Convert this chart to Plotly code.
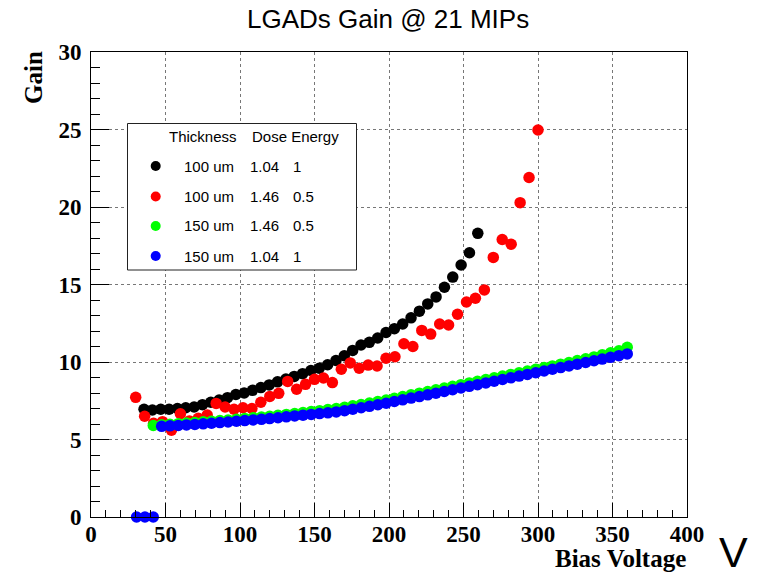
import plotly.graph_objects as go

# ---------------- data ----------------
black_x = [35.6, 41.2, 46.8, 52.4, 58.0, 63.6, 69.2, 74.8, 80.4, 86.0, 91.6, 97.2, 102.8, 108.4,
           114.0, 119.6, 125.2, 130.8, 136.4, 142.0, 147.6, 153.2, 158.8, 164.4, 170.0, 175.6,
           181.2, 186.8, 192.4, 198.0, 203.6, 209.2, 214.8, 220.4, 226.0, 231.6, 237.2, 242.8,
           248.4, 254.0, 259.6]
black_y = [6.95, 6.9, 6.95, 6.95, 7.0, 7.05, 7.1, 7.25, 7.4, 7.55, 7.7, 7.9, 8.0, 8.17,
           8.35, 8.52, 8.72, 8.9, 9.07, 9.25, 9.45, 9.6, 9.82, 10.1, 10.4, 10.75,
           11.1, 11.27, 11.55, 11.9, 12.15, 12.45, 12.85, 13.28, 13.75, 14.2, 14.82, 15.48,
           16.26, 17.05, 18.3]

red_x = [30, 36, 42, 48, 54, 60, 66, 72, 78, 84, 90, 96, 102, 108, 114, 120, 126, 132, 138,
         144, 150, 156, 162, 168, 174, 180, 186, 192, 198, 204, 210, 216, 222, 228, 234, 240,
         246, 252, 258, 264, 270, 276, 282, 288, 294, 300]
red_y = [7.72, 6.5, 6.05, 6.15, 5.6, 6.66, 6.2, 6.37, 6.58, 7.33, 7.1, 6.95, 7.05, 7.0, 7.4,
         7.78, 7.98, 8.75, 8.24, 8.56, 8.88, 8.97, 8.67, 9.53, 9.94, 9.6, 9.8, 9.74, 10.24,
         10.34, 11.18, 11.0, 12.04, 11.8, 12.45, 12.39, 13.08, 13.87, 14.11, 14.65, 16.75,
         17.9, 17.6, 20.28, 21.9, 24.97]

green_x = [41.8, 47.4, 53.0, 58.6, 64.1, 69.7, 75.3, 80.9, 86.5, 92.0, 97.6, 103.2, 108.8,
           114.4, 119.9, 125.5, 131.1, 136.7, 142.3, 147.8, 153.4, 159.0, 164.6, 170.2, 175.7,
           181.3, 186.9, 192.5, 198.1, 203.6, 209.2, 214.8, 220.4, 226.0, 231.5, 237.1, 242.7,
           248.3, 253.9, 259.4, 265.0, 270.6, 276.2, 281.8, 287.3, 292.9, 298.5, 304.1, 309.7,
           315.2, 320.8, 326.4, 332.0, 337.6, 343.1, 348.7, 354.3, 359.9]
green_y = [5.90, 5.95, 5.98, 6.02, 6.06, 6.10, 6.14, 6.18, 6.22, 6.26, 6.31, 6.36, 6.40,
           6.45, 6.50, 6.56, 6.62, 6.68, 6.74, 6.80, 6.86, 6.93, 7.00, 7.08, 7.17,
           7.26, 7.35, 7.45, 7.55, 7.66, 7.77, 7.88, 7.99, 8.10, 8.21, 8.32, 8.43,
           8.54, 8.65, 8.76, 8.87, 8.98, 9.09, 9.20, 9.31, 9.42, 9.53, 9.64, 9.75,
           9.86, 9.97, 10.09, 10.21, 10.33, 10.46, 10.59, 10.72, 10.95]

blue_x = [30.6, 36.2, 41.8, 47.4, 53.0, 58.6, 64.1, 69.7, 75.3, 80.9, 86.5, 92.0, 97.6, 103.2,
          108.8, 114.4, 119.9, 125.5, 131.1, 136.7, 142.3, 147.8, 153.4, 159.0, 164.6, 170.2,
          175.7, 181.3, 186.9, 192.5, 198.1, 203.6, 209.2, 214.8, 220.4, 226.0, 231.5, 237.1,
          242.7, 248.3, 253.9, 259.4, 265.0, 270.6, 276.2, 281.8, 287.3, 292.9, 298.5, 304.1,
          309.7, 315.2, 320.8, 326.4, 332.0, 337.6, 343.1, 348.7, 354.3, 359.9]
blue_y = [0, 0, 0, 5.85, 5.88, 5.91, 5.94, 5.97, 6.01, 6.05, 6.09, 6.13, 6.18, 6.22,
          6.26, 6.30, 6.35, 6.40, 6.46, 6.52, 6.57, 6.62, 6.67, 6.72, 6.78, 6.86,
          6.95, 7.05, 7.14, 7.24, 7.34, 7.45, 7.56, 7.67, 7.77, 7.88, 7.99, 8.10,
          8.21, 8.32, 8.43, 8.54, 8.65, 8.76, 8.87, 8.98, 9.09, 9.20, 9.31, 9.42,
          9.53, 9.64, 9.75, 9.86, 9.97, 10.08, 10.19, 10.30, 10.41, 10.52]

series_names = ["100 um 1.04 1", "100 um 1.46 0.5", "150 um 1.46 0.5", "150 um 1.04 1"]
legend_thickness = ["100 um", "100 um", "150 um", "150 um"]
legend_dose = ["1.04", "1.46", "1.46", "1.04"]
legend_energy = ["1", "0.5", "0.5", "1"]
colors = ["#000000", "#ff0000", "#00ff00", "#0000ff"]

title_text = "LGADs Gain @ 21 MIPs"
x_title = "Bias Voltage"
y_title = "Gain"
unit_text = "V"

# ---------------- layout geometry ----------------
W, H = 769, 576
L, R, T, B = 91, 687, 52, 517


def px(xp):
    return (xp - L) / (R - L)


def py(yp):
    return (B - yp) / (B - T)


SANS = "Liberation Sans"
SERIF = "Liberation Serif"

fig = go.Figure()
all_x = [black_x, red_x, green_x, blue_x]
all_y = [black_y, red_y, green_y, blue_y]
for xs, ys, c, n in zip(all_x, all_y, colors, series_names):
    fig.add_trace(go.Scatter(x=xs, y=ys, mode="markers", name=n, showlegend=False,
                             cliponaxis=False,
                             marker=dict(color=c, size=11.5, line=dict(width=0))))

axis_common = dict(showline=True, linecolor="black", linewidth=1, mirror=True,
                   ticks="inside", tickcolor="black", tickwidth=1,
                   showgrid=True, gridcolor="#777777", griddash="dot", gridwidth=1,
                   zeroline=False,
                   tickfont=dict(family=SERIF, size=23, color="black", weight="bold"))

fig.update_xaxes(range=[0, 400], dtick=50, tick0=0, ticklen=14, ticklabelstandoff=-4,
                 minor=dict(dtick=10, ticklen=7, ticks="inside", tickcolor="black", showgrid=False),
                 **axis_common)
fig.update_yaxes(range=[0, 30], dtick=5, tick0=0, ticklen=18, ticklabelstandoff=4,
                 minor=dict(dtick=1, ticklen=9, ticks="inside", tickcolor="black", showgrid=False),
                 **axis_common)

shapes = []
annotations = []

# legend box
shapes.append(dict(type="rect", xref="paper", yref="paper",
                   x0=px(127.5), x1=px(356.5), y0=py(270), y1=py(123.5),
                   line=dict(color="#222222", width=1), fillcolor="white", layer="above"))
annotations.append(dict(xref="paper", yref="paper", x=px(167), y=py(136), text="Thickness",
                        xanchor="left", yanchor="middle", showarrow=False,
                        font=dict(family=SANS, size=15, color="black")))
annotations.append(dict(xref="paper", yref="paper", x=px(250), y=py(136), text="Dose Energy",
                        xanchor="left", yanchor="middle", showarrow=False,
                        font=dict(family=SANS, size=15, color="black")))
row_y = [166, 196.5, 226, 256]
for i in range(4):
    shapes.append(dict(type="circle", xref="paper", yref="paper",
                       xsizemode="pixel", ysizemode="pixel",
                       xanchor=px(155.7), yanchor=py(row_y[i]),
                       x0=-5, x1=5, y0=-5, y1=5,
                       fillcolor=colors[i], line=dict(width=0), layer="above"))
    for txt, xp in [(legend_thickness[i], 182), (legend_dose[i], 248), (legend_energy[i], 291)]:
        annotations.append(dict(xref="paper", yref="paper", x=px(xp), y=py(row_y[i]), text=txt,
                                xanchor="left", yanchor="middle", showarrow=False,
                                font=dict(family=SANS, size=15, color="black")))

# title
annotations.append(dict(xref="paper", yref="paper", x=px(388), y=py(19), text=title_text,
                        xanchor="center", yanchor="middle", showarrow=False,
                        font=dict(family=SANS, size=26, color="black")))
# axis titles
annotations.append(dict(xref="paper", yref="paper", x=px(688), y=py(558), text=x_title,
                        xanchor="right", yanchor="middle", showarrow=False,
                        font=dict(family=SERIF, size=25, color="black", weight="bold")))
annotations.append(dict(xref="paper", yref="paper", x=px(33), y=py(78), text=y_title,
                        textangle=-90, xanchor="center", yanchor="middle", showarrow=False,
                        font=dict(family=SERIF, size=25, color="black", weight="bold")))
annotations.append(dict(xref="paper", yref="paper", x=px(733), y=py(552), text=unit_text,
                        xanchor="center", yanchor="middle", showarrow=False,
                        font=dict(family=SANS, size=43, color="black")))

fig.update_layout(width=W, height=H,
                  margin=dict(l=L, r=W - R, t=T, b=H - B, pad=0),
                  paper_bgcolor="white", plot_bgcolor="white",
                  shapes=shapes, annotations=annotations, showlegend=False)

fig.write_html("out.html")
